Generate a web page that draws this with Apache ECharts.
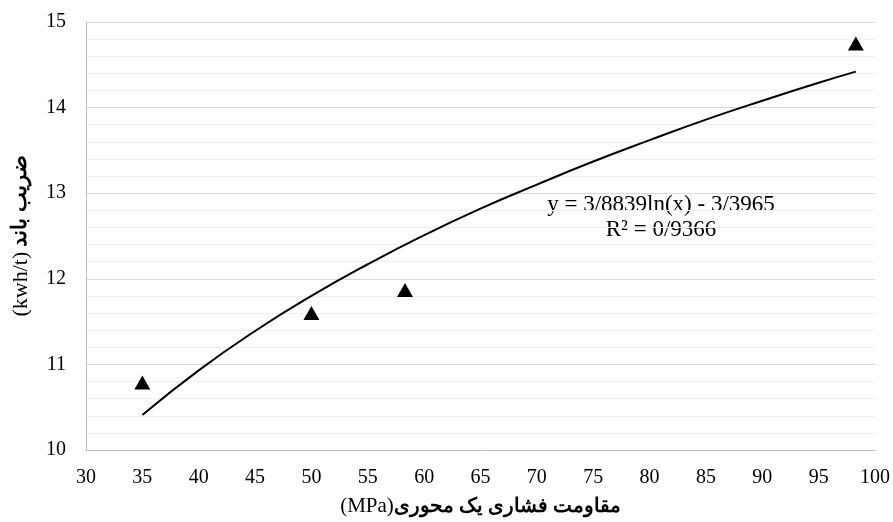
<!DOCTYPE html>
<html><head><meta charset="utf-8">
<script src="https://cdn.jsdelivr.net/npm/echarts@6/dist/echarts.min.js"></script>
<style>html,body{margin:0;padding:0;background:#fff}#c{width:893px;height:522px}</style>
</head><body><div id="c"></div>
<script>
// Measured points
var pointX = [35, 50, 58.3, 98.3];
var pointY = [10.79, 11.6, 11.87, 14.75];
// Trend line values
var trendX = [35, 40, 45, 50, 55, 60, 65, 70, 75, 80, 85, 90, 95, 98.3];
var trendY = [10.41, 10.93, 11.39, 11.80, 12.17, 12.51, 12.82, 13.10, 13.37, 13.62, 13.86, 14.08, 14.29, 14.42];
var xTitleLatin = '(MPa)';
var xTitleFa = 'مقاومت فشاری یک محوری';
var yTitleLatin = '(kwh/t)';
var yTitleFa = 'ضریب باند';
var eqLine1 = 'y = 3/8839ln(x) - 3/3965';
var eqLine2 = 'R² = 0/9366';

var serif = '"Liberation Serif", "Times New Roman", "DejaVu Serif", serif';
var chart = echarts.init(document.getElementById('c'));
chart.setOption({
  animation: false,
  grid: {left: 86, right: 18, top: 22, bottom: 72, containLabel: false, outerBoundsMode: 'none'},
  xAxis: {
    type: 'value', min: 30, max: 100, interval: 5,
    axisLine: {show: true, lineStyle: {color: '#bfbfbf', width: 1}},
    axisTick: {show: false},
    splitLine: {show: false},
    axisLabel: {color: '#000', fontFamily: serif, fontSize: 20, margin: 18},
    name: '{a|' + xTitleLatin + '}{b|' + xTitleFa + '}',
    nameLocation: 'middle', nameGap: 46,
    nameTextStyle: {
      color: '#000', fontFamily: serif, fontSize: 20,
      rich: {
        a: {fontFamily: serif, fontSize: 21, color: '#000'},
        b: {fontFamily: serif, fontSize: 20, fontWeight: 'bold', color: '#000'}
      }
    }
  },
  yAxis: {
    type: 'value', min: 10, max: 15, interval: 1,
    axisLine: {show: true, lineStyle: {color: '#bfbfbf', width: 1}},
    axisTick: {show: false},
    splitLine: {show: true, lineStyle: {color: '#d9d9d9', width: 1}},
    minorTick: {show: false, splitNumber: 5},
    minorSplitLine: {show: true, lineStyle: {color: '#f0f0f0', width: 1}},
    axisLabel: {color: '#000', fontFamily: serif, fontSize: 20, margin: 20},
    name: '{a|' + yTitleLatin + '} {b|' + yTitleFa + '}',
    nameLocation: 'middle', nameGap: 54, nameRotate: 90,
    nameTextStyle: {
      color: '#000', fontFamily: serif, fontSize: 20,
      rich: {
        a: {fontFamily: serif, fontSize: 22, color: '#000'},
        b: {fontFamily: serif, fontSize: 21, fontWeight: 'bold', color: '#000'}
      }
    }
  },
  series: [
    {
      type: 'line', data: trendX.map(function(x, i){return [x, trendY[i]];}),
      smooth: true, showSymbol: false, symbol: 'none',
      lineStyle: {color: '#000', width: 2}, z: 2
    },
    {
      type: 'scatter', data: pointX.map(function(x, i){return [x, pointY[i]];}),
      symbol: 'triangle', symbolSize: [16, 14],
      itemStyle: {color: '#000', opacity: 1}, z: 3
    }
  ],
  graphic: [
    {type: 'text', x: 661, y: 193, style: {text: eqLine1, font: '23px ' + serif, fill: '#000', textAlign: 'center'}},
    {type: 'text', x: 661, y: 218, style: {text: eqLine2, font: '23px ' + serif, fill: '#000', textAlign: 'center'}}
  ]
});
</script></body></html>
